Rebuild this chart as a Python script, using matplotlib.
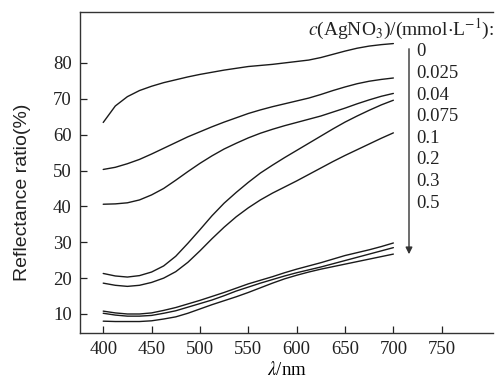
import matplotlib
matplotlib.use("Agg")
import matplotlib.pyplot as plt

plt.rcParams['font.family'] = ['Liberation Serif', 'DejaVu Serif']
plt.rcParams['mathtext.fontset'] = 'stix'

wavelength = [400, 412.5, 425, 437.5, 450, 462.5, 475, 487.5, 500, 512.5, 525, 537.5, 550,
              562.5, 575, 587.5, 600, 612.5, 625, 637.5, 650, 662.5, 675, 687.5, 700]
conc_labels = ["0", "0.025", "0.04", "0.075", "0.1", "0.2", "0.3", "0.5"]
r_0 = [63.4, 68.0, 70.6, 72.3, 73.5, 74.5, 75.3, 76.1, 76.8, 77.4, 78.0, 78.5, 79.0,
       79.3, 79.6, 80.0, 80.4, 80.8, 81.5, 82.4, 83.3, 84.1, 84.7, 85.1, 85.4]
r_0025 = [50.3, 50.9, 51.9, 53.1, 54.6, 56.2, 57.8, 59.4, 60.8, 62.2, 63.5, 64.7, 65.9,
          66.9, 67.8, 68.6, 69.4, 70.2, 71.2, 72.3, 73.3, 74.2, 74.9, 75.4, 75.8]
r_004 = [40.6, 40.7, 41.0, 41.8, 43.2, 45.0, 47.3, 49.7, 52.0, 54.1, 56.0, 57.6, 59.1,
         60.4, 61.5, 62.5, 63.4, 64.3, 65.2, 66.3, 67.4, 68.6, 69.7, 70.7, 71.5]
r_0075 = [21.3, 20.6, 20.3, 20.7, 21.7, 23.4, 26.1, 29.7, 33.5, 37.4, 40.9, 43.9, 46.7,
          49.3, 51.5, 53.6, 55.6, 57.6, 59.6, 61.6, 63.5, 65.2, 66.8, 68.3, 69.6]
r_01 = [18.6, 18.0, 17.7, 18.0, 18.8, 20.0, 21.8, 24.4, 27.6, 31.0, 34.2, 37.1, 39.6,
        41.8, 43.7, 45.4, 47.1, 48.9, 50.7, 52.5, 54.2, 55.8, 57.4, 59.0, 60.5]
r_02 = [10.8, 10.3, 10.0, 10.0, 10.3, 11.0, 11.8, 12.8, 13.8, 14.9, 16.0, 17.2, 18.4,
        19.4, 20.4, 21.5, 22.5, 23.4, 24.3, 25.3, 26.3, 27.1, 27.9, 28.8, 29.8]
r_03 = [10.2, 9.7, 9.4, 9.4, 9.6, 10.2, 10.9, 11.9, 12.9, 13.9, 15.1, 16.4, 17.5,
        18.6, 19.6, 20.6, 21.5, 22.3, 23.1, 24.0, 24.9, 25.8, 26.7, 27.6, 28.5]
r_05 = [8.0, 7.9, 7.9, 7.9, 8.1, 8.6, 9.2, 10.2, 11.4, 12.6, 13.7, 14.8, 16.0,
        17.3, 18.6, 19.8, 20.8, 21.7, 22.5, 23.2, 23.9, 24.6, 25.3, 26.0, 26.7]
series = [r_0, r_0025, r_004, r_0075, r_01, r_02, r_03, r_05]

x_ticks = [400, 450, 500, 550, 600, 650, 700, 750]
y_ticks = [10, 20, 30, 40, 50, 60, 70, 80]

W, H = 496, 388
fig = plt.figure(figsize=(W / 100, H / 100), dpi=100)
ax = fig.add_axes([80 / W, 1 - 333 / H, 413 / W, 321 / H])

for s in series:
    ax.plot(wavelength, s, color='#1a1a1a', lw=1.0, solid_capstyle='round', solid_joinstyle='round')

ax.set_xlim(376, 803)
ax.set_ylim(4.7, 94.2)
ax.set_xticks(x_ticks)
ax.set_yticks(y_ticks)
ax.tick_params(direction='in', length=5, width=0.9, labelsize=13.5, colors='#222222', pad=6)
ax.spines['right'].set_visible(False)
for sp in ['left', 'bottom', 'top']:
    ax.spines[sp].set_linewidth(1.0)
    ax.spines[sp].set_color('#333333')

ax.set_xlabel(r'$\lambda$/nm', fontsize=13.5, labelpad=2)
fig.text(23 / W, 1 - 192 / H, 'Reflectance ratio(%)', rotation=90, ha='center', va='center',
         fontsize=14, family=['Liberation Sans', 'DejaVu Sans'], color='#222222')

fig.text(494 / W, 1 - 29 / H, r'$c$(AgNO$_3$)/(mmol$\cdot$L$^{-1}$):', ha='right', va='center',
         fontsize=14, color='#222222')

for i, lab in enumerate(conc_labels):
    fig.text(416 / W, 1 - (52 + i * 21.6) / H, lab, ha='left', va='center', fontsize=13.5, color='#222222')

ax.annotate('', xy=(409 / W, 1 - 257 / H), xytext=(409 / W, 1 - 46 / H),
            xycoords='figure fraction', textcoords='figure fraction',
            arrowprops=dict(arrowstyle='-|>', color='#333333', lw=1.0, mutation_scale=10))

fig.savefig('out.png', dpi=100)
